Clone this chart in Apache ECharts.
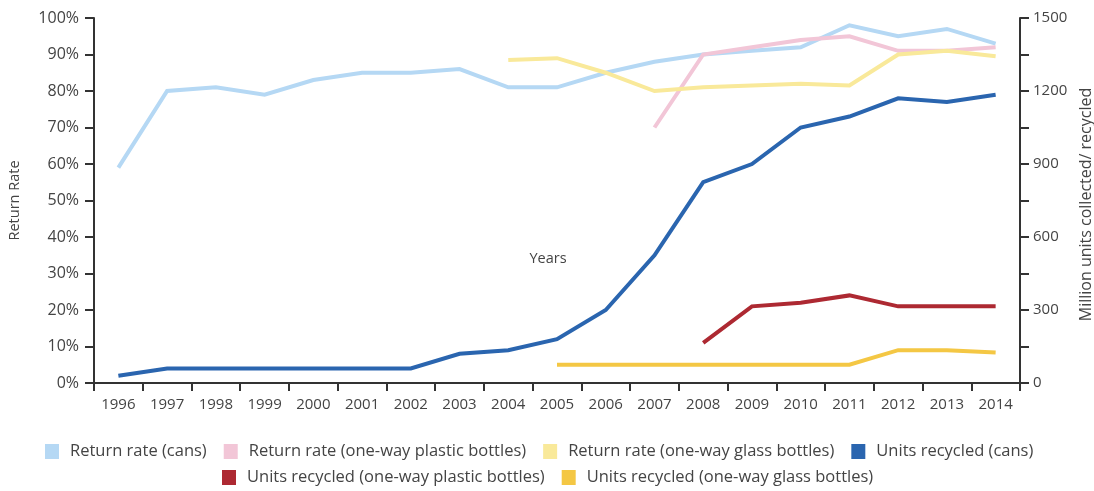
<!DOCTYPE html>
<html>
<head>
<meta charset="utf-8">
<title>Return rates and units recycled, 1996–2014</title>
<script src="https://cdn.jsdelivr.net/npm/echarts@6/dist/echarts.min.js"></script>
<style>
  html, body { margin: 0; padding: 0; background: #ffffff; }
  #chart { width: 1094px; height: 491px; }
</style>
</head>
<body>
<div id="chart"></div>
<script>
// Years on the category axis
const years = ['1996','1997','1998','1999','2000','2001','2002','2003','2004','2005',
               '2006','2007','2008','2009','2010','2011','2012','2013','2014'];

// Return rates in percent (left axis); null where no data exists
const returnCans    = [59, 80, 81, 79, 83, 85, 85, 86, 81, 81, 85, 88, 90, 91, 92, 98, 95, 97, 93];
const returnPlastic = [null, null, null, null, null, null, null, null, null, null, null, 70, 90, 92, 94, 95, 91, 91, 92];
const returnGlass   = [null, null, null, null, null, null, null, null, 88.5, 89, 85, 80, 81, 81.5, 82, 81.5, 90, 91, 89.5];

// Million units recycled (right axis)
const unitsCans    = [30, 60, 60, 60, 60, 60, 60, 120, 135, 180, 300, 525, 825, 900, 1050, 1095, 1170, 1155, 1185];
const unitsPlastic = [null, null, null, null, null, null, null, null, null, null, null, null, 165, 315, 330, 360, 315, 315, 315];
const unitsGlass   = [null, null, null, null, null, null, null, null, null, 75, 75, 75, 75, 75, 75, 75, 135, 135, 125];

// Tick labels
const rateTicks  = [0, 10, 20, 30, 40, 50, 60, 70, 80, 90, 100];
const unitTicks  = [0, 300, 600, 900, 1200, 1500];

const names = [
  'Return rate (cans)',
  'Return rate (one-way plastic bottles)',
  'Return rate (one-way glass bottles)',
  'Units recycled (cans)',
  'Units recycled (one-way plastic bottles)',
  'Units recycled (one-way glass bottles)'
];
const colors = ['#b5d8f4', '#f2c6d7', '#f9e99a', '#2a65af', '#ad2932', '#f4c744'];

const FONT = '"Open Sans"';
const TEXT = '#444444';
const AXIS = '#333333';

function lineSeries(i, data, yAxisIndex, width) {
  return {
    name: names[i],
    type: 'line',
    data: data,
    yAxisIndex: yAxisIndex,
    symbol: 'none',
    connectNulls: false,
    lineStyle: { color: colors[i], width: width, join: 'miter' },
    itemStyle: { color: colors[i] },
    emphasis: { disabled: true },
    z: yAxisIndex === 1 ? 3 : 2
  };
}

const legendCommon = {
  icon: 'rect',
  itemWidth: 14,
  itemHeight: 15,
  itemGap: 17,
  padding: 0,
  textStyle: { fontFamily: FONT, fontSize: 16.5, color: TEXT, padding: [0, 0, 0, 6] },
  selectedMode: false
};

const chart = echarts.init(document.getElementById('chart'), null, { renderer: 'canvas' });

chart.setOption({
  animation: false,
  color: colors,
  textStyle: { fontFamily: FONT },
  grid: { left: 94, right: 74, top: 18, bottom: 108, containLabel: false, outerBoundsMode: 'none' },
  legend: [
    Object.assign({}, legendCommon, { left: 45, top: 443, data: names.slice(0, 4) }),
    Object.assign({}, legendCommon, { left: 222, top: 469, data: names.slice(4) })
  ],
  xAxis: {
    type: 'category',
    data: years,
    boundaryGap: true,
    name: 'Years',
    nameLocation: 'middle',
    nameGap: -132,
    nameTextStyle: { fontFamily: FONT, fontSize: 14.5, color: TEXT, padding: [0, 18, 0, 0] },
    axisLine: { lineStyle: { color: AXIS, width: 2 } },
    axisTick: { show: true, length: 8, lineStyle: { color: AXIS, width: 2 } },
    axisLabel: { fontFamily: FONT, fontSize: 15, color: TEXT, margin: 14 },
    splitLine: { show: false }
  },
  yAxis: [
    {
      type: 'value',
      min: 0,
      max: 100,
      interval: 10,
      name: 'Return Rate',
      nameLocation: 'middle',
      nameGap: 72,
      nameRotate: 90,
      nameTextStyle: { fontFamily: FONT, fontSize: 14.5, color: TEXT, padding: [8, 0, 0, 0] },
      axisLine: { show: true, lineStyle: { color: AXIS, width: 2 } },
      axisTick: { show: true, length: 9, lineStyle: { color: AXIS, width: 2 } },
      axisLabel: {
        fontFamily: FONT, fontSize: 16, color: TEXT, margin: 15,
        formatter: v => rateTicks.indexOf(v) >= 0 ? v + '%' : ''
      },
      splitLine: { show: false }
    },
    {
      type: 'value',
      min: 0,
      max: 1500,
      interval: 150,
      position: 'right',
      name: 'Million units collected/ recycled',
      nameLocation: 'middle',
      nameGap: 52,
      nameRotate: 90,
      nameTextStyle: { fontFamily: FONT, fontSize: 16, color: TEXT, padding: [0, 8, 0, 0] },
      axisLine: { show: true, lineStyle: { color: AXIS, width: 2 } },
      axisTick: { show: true, length: 9, lineStyle: { color: AXIS, width: 2 } },
      axisLabel: {
        fontFamily: FONT, fontSize: 15, color: TEXT, margin: 13,
        formatter: v => unitTicks.indexOf(v) >= 0 ? String(v) : ''
      },
      splitLine: { show: false }
    }
  ],
  series: [
    lineSeries(0, returnCans, 0, 4),
    lineSeries(1, returnPlastic, 0, 4),
    lineSeries(2, returnGlass, 0, 4),
    lineSeries(3, unitsCans, 1, 4),
    lineSeries(4, unitsPlastic, 1, 4),
    lineSeries(5, unitsGlass, 1, 4)
  ]
});
</script>
</body>
</html>
